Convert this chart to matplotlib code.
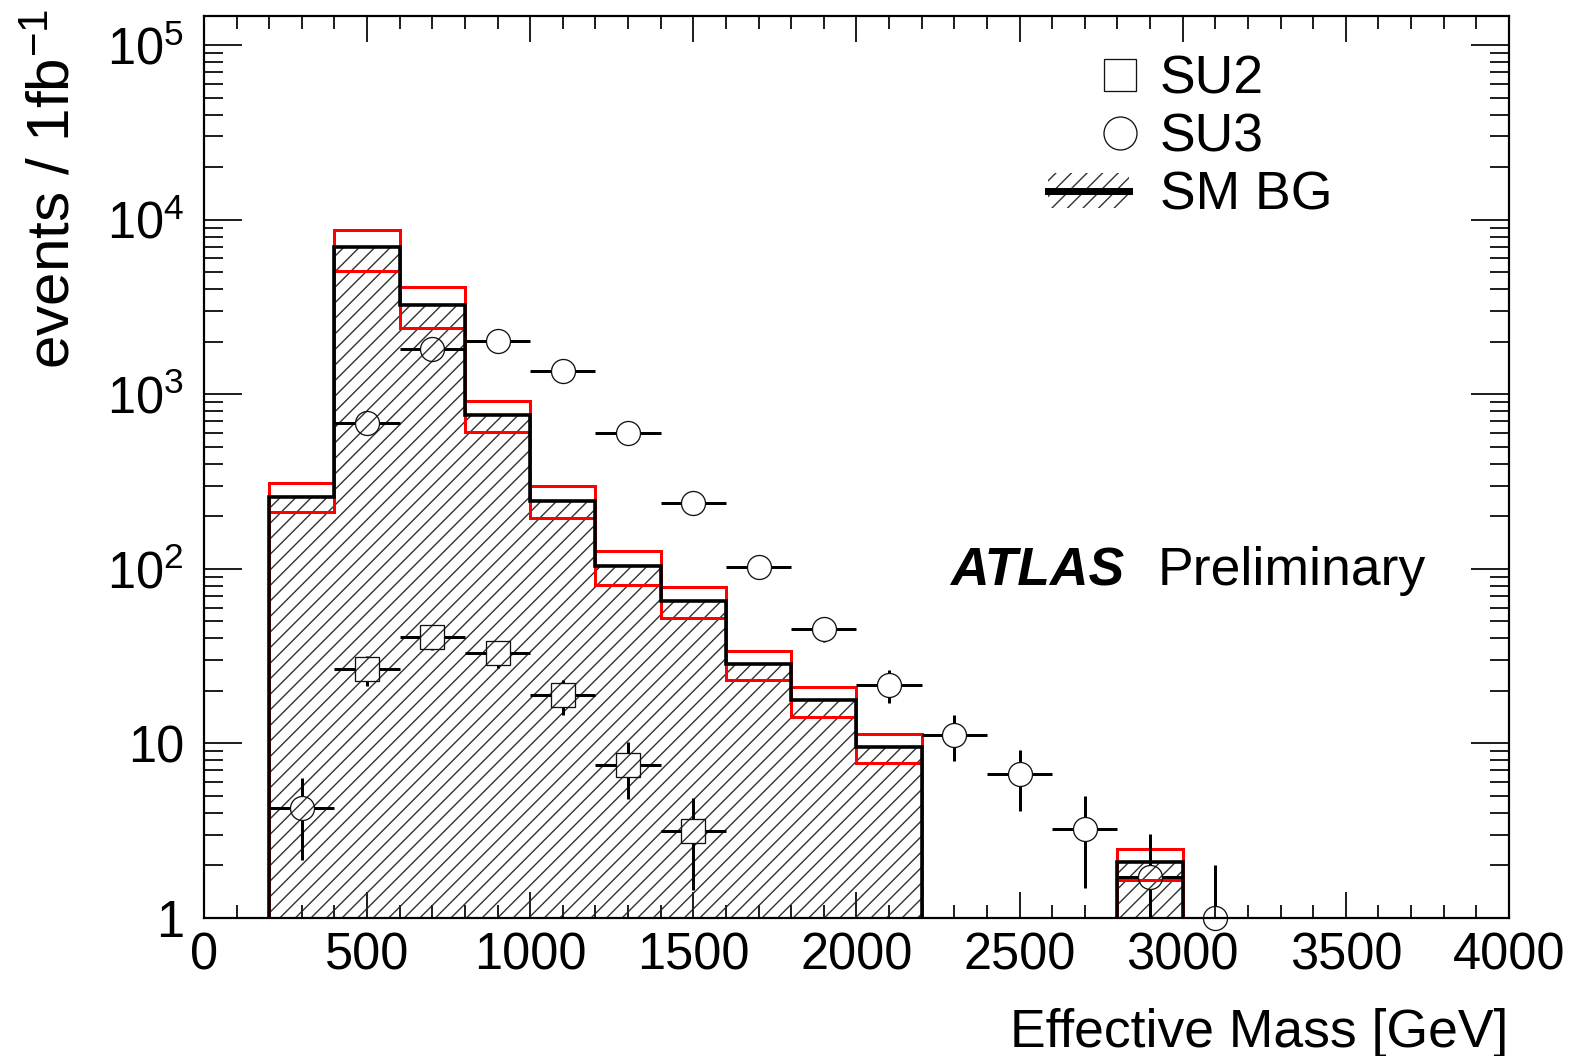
import numpy as np
import matplotlib
matplotlib.use("Agg")
import matplotlib.pyplot as plt
from matplotlib.collections import LineCollection
from matplotlib.lines import Line2D
from matplotlib.patches import Patch
from matplotlib.legend_handler import HandlerLine2D, HandlerTuple
from matplotlib.ticker import FixedLocator, FixedFormatter, LogLocator, NullFormatter, MultipleLocator

# ---------------- data ----------------
bin_edges = [200, 400, 600, 800, 1000, 1200, 1400, 1600, 1800, 2000, 2200, 2400, 2600, 2800, 3000]
bg_nominal = [259, 7000, 3240, 760, 244, 104, 65.4, 28.4, 17.7, 9.58, 0, 0, 0, 2.10]
bg_upper = [310, 8790, 4100, 914, 299, 126, 78.3, 33.8, 21.0, 11.4, 0, 0, 0, 2.47]
bg_lower = [211, 5090, 2400, 605, 195, 80.7, 52.5, 23.1, 14.2, 7.7, 0, 0, 0, 1.65]

su3_x = [300, 500, 700, 900, 1100, 1300, 1500, 1700, 1900, 2100, 2300, 2500, 2700, 2900, 3100]
su3_y = [4.25, 681, 1808, 2017, 1352, 597, 239, 102, 45, 21.6, 11.2, 6.65, 3.23, 1.72, 1.0]
su3_err = [2.1, 26, 43, 45, 37, 24, 15.5, 10, 6.7, 4.6, 3.3, 2.55, 1.75, 1.32, 1.0]

su2_x = [500, 700, 900, 1100, 1300, 1500]
su2_y = [26.6, 40.5, 32.8, 18.9, 7.5, 3.15]
su2_err = [5.2, 6.4, 5.7, 4.3, 2.7, 1.7]

half_bin = 100

y_ticks = [1, 10, 100, 1e3, 1e4, 1e5]
y_tick_labels = ["1", "10", r"$\mathregular{10^{2}}$", r"$\mathregular{10^{3}}$",
                 r"$\mathregular{10^{4}}$", r"$\mathregular{10^{5}}$"]
legend_labels = ["SU2", "SU3", "SM BG"]

# ---------------- style ----------------
DPI = 140
W, H = 1574, 1056
PX = 72.0 / DPI  # points per pixel

plt.rcParams["font.family"] = ["Liberation Sans", "DejaVu Sans"]
plt.rcParams["mathtext.fontset"] = "custom"
plt.rcParams["mathtext.rm"] = "Liberation Sans"
plt.rcParams["mathtext.it"] = "Liberation Sans:italic"
plt.rcParams["mathtext.bf"] = "Liberation Sans:bold"
plt.rcParams["hatch.linewidth"] = 1.4 * PX

HATCH = "///"
HATCH_COLOR = "#333333"

fig = plt.figure(figsize=(W / DPI, H / DPI), dpi=DPI)
ax_l, ax_r, ax_t, ax_b = 204, 1509, 16, 918
ax = fig.add_axes([ax_l / W, 1 - ax_b / H, (ax_r - ax_l) / W, (ax_b - ax_t) / H])

ax.set_xlim(0, 4000)
ax.set_yscale("log")
ax.set_ylim(1, 1.47e5)

# background histogram: hatch fill, red band, black outline
ax.stairs(bg_nominal, bin_edges, fill=True, baseline=0, facecolor="none",
          edgecolor=HATCH_COLOR, hatch=HATCH, linewidth=0, zorder=1)
ax.stairs(bg_upper, bin_edges, baseline=0, color="#ff0000", linewidth=3.0 * PX, zorder=2)
ax.stairs(bg_lower, bin_edges, baseline=0, color="#ff0000", linewidth=3.0 * PX, zorder=2)
ax.stairs(bg_nominal, bin_edges, baseline=0, color="black", linewidth=3.6 * PX, zorder=3)

fig.canvas.draw()

marker_px = 24
gap = marker_px / 2.0


def error_segments(xs, ys, errs):
    segs = []
    inv = ax.transData.inverted()
    for x, y, e in zip(xs, ys, errs):
        px, py = ax.transData.transform((x, y))
        xl_gap = inv.transform((px - gap, py))[0]
        xr_gap = inv.transform((px + gap, py))[0]
        yb_gap = inv.transform((px, py - gap))[1]
        yt_gap = inv.transform((px, py + gap))[1]
        segs.append([(x - half_bin, y), (xl_gap, y)])
        segs.append([(xr_gap, y), (x + half_bin, y)])
        hi = y + e
        lo = max(y - e, 1e-3)
        if hi > yt_gap:
            segs.append([(x, yt_gap), (x, hi)])
        if lo < yb_gap:
            segs.append([(x, lo), (x, yb_gap)])
    return segs


for xs, ys, es in [(su3_x, su3_y, su3_err), (su2_x, su2_y, su2_err)]:
    lc = LineCollection(error_segments(xs, ys, es), colors="black",
                        linewidths=3.0 * PX, zorder=4, capstyle="butt")
    ax.add_collection(lc)

ms = marker_px * PX
ax.plot(su3_x, su3_y, ls="none", marker="o", mfc="none", mec="#111111",
        ms=ms, mew=1.3 * PX, zorder=5, clip_on=False)
ax.plot(su2_x, su2_y, ls="none", marker="s", mfc="none", mec="#111111",
        ms=ms, mew=1.3 * PX, zorder=5, clip_on=False)

# ticks
ax.xaxis.set_major_locator(MultipleLocator(500))
ax.xaxis.set_minor_locator(MultipleLocator(100))
ax.yaxis.set_major_locator(FixedLocator(y_ticks))
ax.yaxis.set_major_formatter(FixedFormatter(y_tick_labels))
ax.yaxis.set_minor_locator(LogLocator(base=10, subs=np.arange(2, 10)))
ax.yaxis.set_minor_formatter(NullFormatter())

fs_tick = 26
ax.tick_params(which="both", direction="in", top=True, right=True,
               width=2.0 * PX, color="#222222")
ax.tick_params(axis="x", which="major", length=26 * PX, labelsize=fs_tick, pad=13 * PX)
ax.tick_params(axis="x", which="minor", length=13 * PX)
ax.tick_params(axis="y", which="major", length=38 * PX, labelsize=fs_tick, pad=20 * PX)
ax.tick_params(axis="y", which="minor", length=19 * PX)
for s in ax.spines.values():
    s.set_linewidth(2.2 * PX)

# axis titles
fig.text(1508 / W, 1 - 1047 / H, "Effective Mass [GeV]", ha="right", va="baseline",
         fontsize=27.5)
fig.text(55 / W, 1 - 9 / H, r"events / 1fb$\mathregular{^{-1}}$", ha="center", va="top",
         rotation=90, fontsize=31)

# ATLAS Preliminary
fig.text(950 / W, 1 - 585 / H, "ATLAS", fontsize=27.5, fontweight="bold", style="italic",
         ha="left", va="baseline")
fig.text(1158 / W, 1 - 585 / H, "Preliminary", fontsize=27.5, ha="left", va="baseline")


# legend
class HandlerRightMarker(HandlerLine2D):
    def get_xdata(self, legend, xdescent, ydescent, width, height, fontsize):
        xdata = np.array([-xdescent + width * 0.78, -xdescent + width])
        return xdata, np.array([-xdescent + width * 0.89])


fs_leg = 27.5
h_su2 = Line2D([], [], ls="none", marker="s", mfc="none", mec="#111111", ms=33 * PX, mew=1.3 * PX)
h_su3 = Line2D([], [], ls="none", marker="o", mfc="none", mec="#111111", ms=33 * PX, mew=1.3 * PX)
h_bg = (Patch(facecolor="none", edgecolor=HATCH_COLOR, hatch=HATCH, linewidth=0),
        Line2D([], [], color="black", lw=7 * PX))
ax.legend([h_su2, h_su3, h_bg], legend_labels, loc="upper left",
          bbox_to_anchor=((1048 - ax_l) / (ax_r - ax_l), (ax_b - 54) / (ax_b - ax_t)),
          frameon=False, fontsize=fs_leg, borderpad=0, borderaxespad=0,
          handlelength=81 * PX / fs_leg, handleheight=34 * PX / fs_leg,
          handletextpad=31 * PX / fs_leg, labelspacing=0.15,
          handler_map={h_su2: HandlerRightMarker(), h_su3: HandlerRightMarker(),
                       tuple: HandlerTuple(ndivide=1, pad=0)})

fig.savefig("out.png", dpi=DPI)
